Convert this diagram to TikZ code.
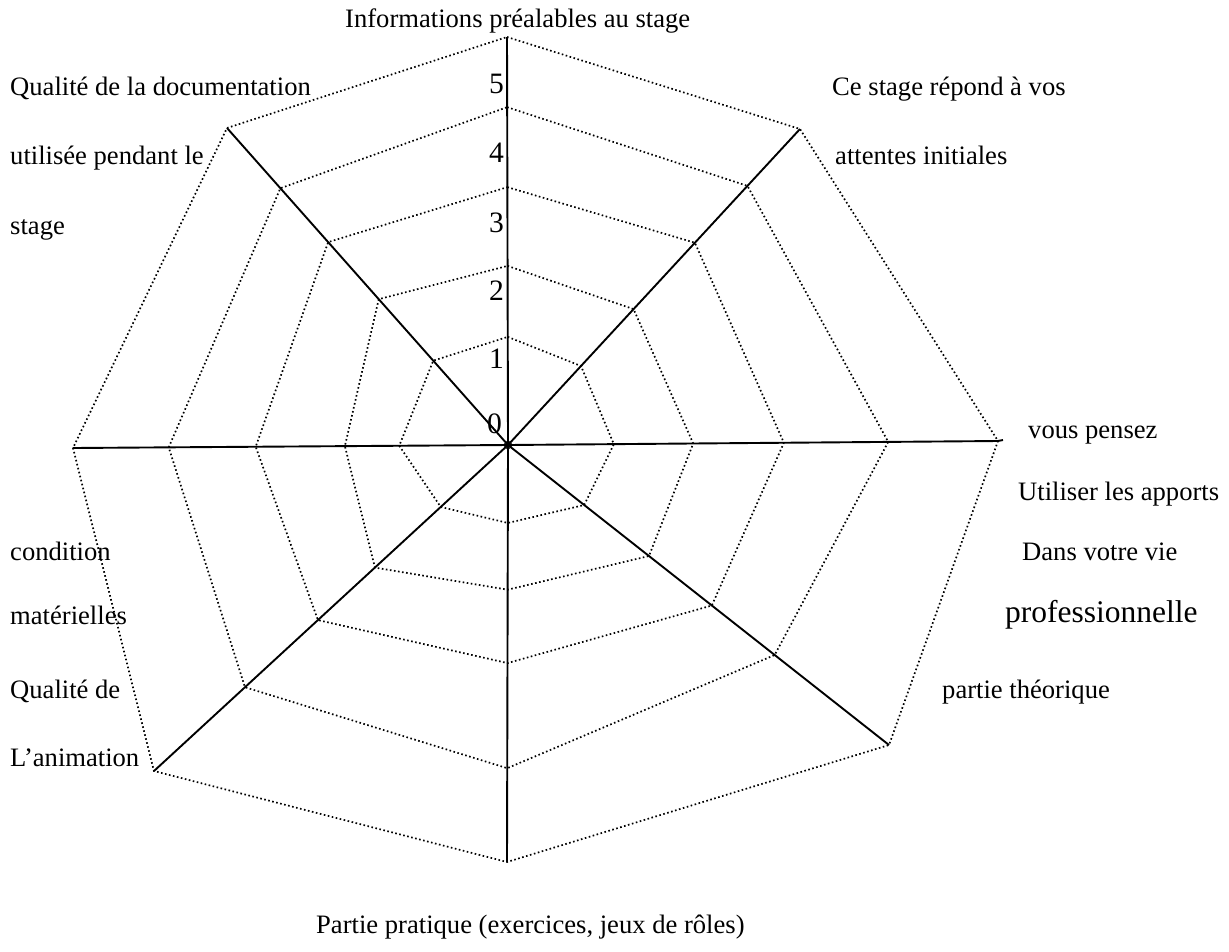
\documentclass[tikz,border=0pt]{standalone}
\usepackage{fontspec}
\setmainfont{Liberation Serif}
\usetikzlibrary{calc}
\begin{document}
\begin{tikzpicture}[x=1pt,y=-1pt,
  axisline/.style={line width=1.9pt},
  ringline/.style={line width=1.7pt, dash pattern=on 1.6pt off 2.5pt},
  lbl/.style={anchor=west, inner sep=0pt, font=\fontsize{26.6}{30}\selectfont, text height=0.68em, text depth=0pt},
  biglbl/.style={lbl, font=\fontsize{31.5}{36}\selectfont},
  tick/.style={anchor=east, inner sep=0pt, font=\fontsize{29.6}{34}\selectfont, text height=0.676em, text depth=0pt}]
\useasboundingbox (0,0) rectangle (1229,951);

% centre and ends of the eight axes
\coordinate (c) at (508,445);
\coordinate (eT) at (507,37);
\coordinate (eUR) at (800,129);
\coordinate (eR) at (998,441);
\coordinate (eLR) at (889,745);
\coordinate (eB) at (507,862);
\coordinate (eLL) at (154,771);
\coordinate (eL) at (73,448);
\coordinate (eUL) at (227,128);

% ring vertices 1..4 on every axis
\foreach \ax/\a/\b/\cc/\d in {T/.265/.439/.632/.828, UR/.25/.43/.64/.82,
    R/.216/.378/.563/.776, LR/.20/.37/.535/.70, B/.187/.347/.523/.775,
    LL/.19/.376/.537/.743, L/.25/.375/.58/.78, UL/.266/.46/.64/.81}{
  \coordinate (\ax1) at ($(c)!\a!(e\ax)$);
  \coordinate (\ax2) at ($(c)!\b!(e\ax)$);
  \coordinate (\ax3) at ($(c)!\cc!(e\ax)$);
  \coordinate (\ax4) at ($(c)!\d!(e\ax)$);
  \coordinate (\ax0) at ($(c)!4.5pt!(e\ax)$);
}

% dotted rings
\foreach \k in {1,...,4}
  \draw[ringline] (T\k) -- (UR\k) -- (R\k) -- (LR\k) -- (B\k) -- (LL\k) -- (L\k) -- (UL\k) -- cycle;
\draw[ringline] (eT) -- (eUR) -- (eR) -- (eLR) -- (eB) -- (eLL) -- (eL) -- (eUL) -- cycle;
\draw[line width=1pt] (T0) -- (R0) -- (B0) -- (L0) -- cycle;

% axes
\foreach \ax in {T,UR,R,LR,B,LL,L,UL}
  \draw[axisline] (c) -- (e\ax);
\coordinate (eRx) at (1003,440);
\draw[axisline] (eR) -- (eRx);

% scale
\node[tick] (s5) at (504,90) {5};
\node[tick] (s4) at (504,159) {4};
\node[tick] (s3) at (504,229) {3};
\node[tick] (s2) at (504,297) {2};
\node[tick] (s1) at (504,365) {1};
\node[tick] (s0) at (502,430) {0};

% axis captions
\node[lbl] (t1) at (345,24) {Informations préalables au stage};
\node[lbl] (ul1) at (10,92) {Qualité de la documentation};
\node[lbl] (ul2) at (10,161) {utilisée pendant le};
\node[lbl] (ul3) at (10,231) {stage};
\node[lbl] (ur1) at (832,92) {Ce stage répond à vos};
\node[lbl] (ur2) at (835,161) {attentes initiales};
\node[lbl] (r1) at (1028,435) {vous pensez};
\node[lbl] (r2) at (1018,497) {Utiliser les apports};
\node[lbl] (r3) at (1022,557) {Dans votre vie};
\node[biglbl] (r4) at (1005,619) {professionnelle};
\node[lbl] (l1) at (10,557) {condition};
\node[lbl] (l2) at (10,621) {matérielles};
\node[lbl] (lr1) at (942,695) {partie théorique};
\node[lbl] (ll1) at (10,695) {Qualité de};
\node[lbl] (ll2) at (10,763) {L’animation};
\node[lbl] (b1) at (316,930) {Partie pratique (exercices, jeux de rôles)};
\end{tikzpicture}
\end{document}
